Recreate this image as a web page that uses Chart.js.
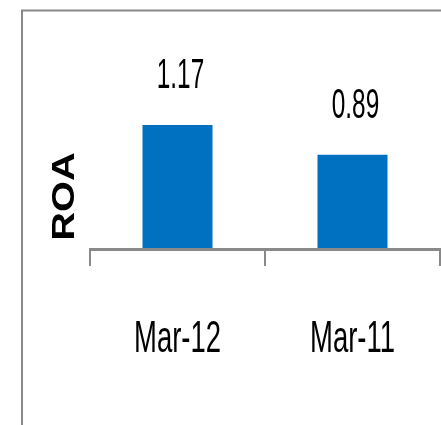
<!DOCTYPE html>
<html>
<head>
<meta charset="utf-8">
<script src="https://cdn.jsdelivr.net/npm/chart.js@4"></script>
<style>
  html, body { margin: 0; padding: 0; background: #fff; }
  #wrap { width: 441px; height: 425px; position: relative; }
</style>
</head>
<body>
<div id="wrap"><canvas id="roaChart"></canvas></div>
<script>
// ---- data ----
const categories = ['Mar-12', 'Mar-11'];
const roaValues = [1.17, 0.89];
const axisTitle = 'ROA';

const GRAY = '#898989';

// text in the picture is horizontally squeezed, so draw it with a scale
function squeezedText(ctx, text, x, y, font, sx, sy) {
    ctx.save();
    ctx.translate(x, y);
    ctx.scale(sx, sy);
    ctx.font = font;
    ctx.fillStyle = '#000';
    ctx.textAlign = 'center';
    ctx.textBaseline = 'alphabetic';
    ctx.fillText(text, 0, 0);
    ctx.restore();
}

const textPlugin = {
    id: 'textPlugin',
    beforeDraw(chart) {
        const ctx = chart.ctx;
        // outer chart frame (left + top edges visible)
        ctx.save();
        ctx.strokeStyle = GRAY;
        ctx.lineWidth = 2;
        ctx.beginPath();
        ctx.moveTo(22, chart.height);
        ctx.lineTo(22, 10.5);
        ctx.lineTo(chart.width, 10.5);
        ctx.stroke();
        ctx.restore();
    },
    afterDraw(chart) {
        const ctx = chart.ctx;
        const xScale = chart.scales.x;

        // value labels above bars
        const meta = chart.getDatasetMeta(0);
        meta.data.forEach((bar, i) => {
            const val = chart.data.datasets[0].data[i];
            squeezedText(ctx, val.toFixed(2), bar.x + 3, bar.y - 37,
                '42px "Liberation Sans", Arial, sans-serif', 0.58, 1);
        });

        // category labels
        chart.data.labels.forEach((lab, i) => {
            squeezedText(ctx, lab, xScale.getPixelForTick(i), 352,
                '45px "Liberation Sans", Arial, sans-serif', 0.61, 1);
        });

        // rotated axis title
        ctx.save();
        ctx.translate(74, 196.5);
        ctx.rotate(-Math.PI / 2);
        ctx.scale(1.02, 0.82);
        ctx.font = 'bold 39px "Liberation Sans", Arial, sans-serif';
        ctx.fillStyle = '#000';
        ctx.textAlign = 'center';
        ctx.textBaseline = 'alphabetic';
        ctx.fillText(axisTitle, 0, 0);
        ctx.restore();
    }
};

new Chart(document.getElementById('roaChart'), {
    type: 'bar',
    data: {
        labels: categories,
        datasets: [{
            label: axisTitle,
            data: roaValues,
            backgroundColor: '#0070C0',
            borderWidth: 0,
            barPercentage: 0.4,
            categoryPercentage: 1.0
        }]
    },
    options: {
        responsive: true,
        maintainAspectRatio: false,
        animation: false,
        layout: {
            padding: { left: 90, right: 1, top: 37, bottom: 159 }
        },
        plugins: {
            legend: { display: false },
            tooltip: { enabled: false }
        },
        scales: {
            x: {
                offset: true,
                grid: {
                    offset: true,
                    drawOnChartArea: false,
                    drawTicks: true,
                    tickLength: 17,
                    color: GRAY,
                    lineWidth: 2
                },
                border: { display: true, color: GRAY, width: 3, z: 1 },
                ticks: { display: false }
            },
            y: {
                display: false,
                min: 0,
                max: 2
            }
        }
    },
    plugins: [textPlugin]
});
</script>
</body>
</html>
